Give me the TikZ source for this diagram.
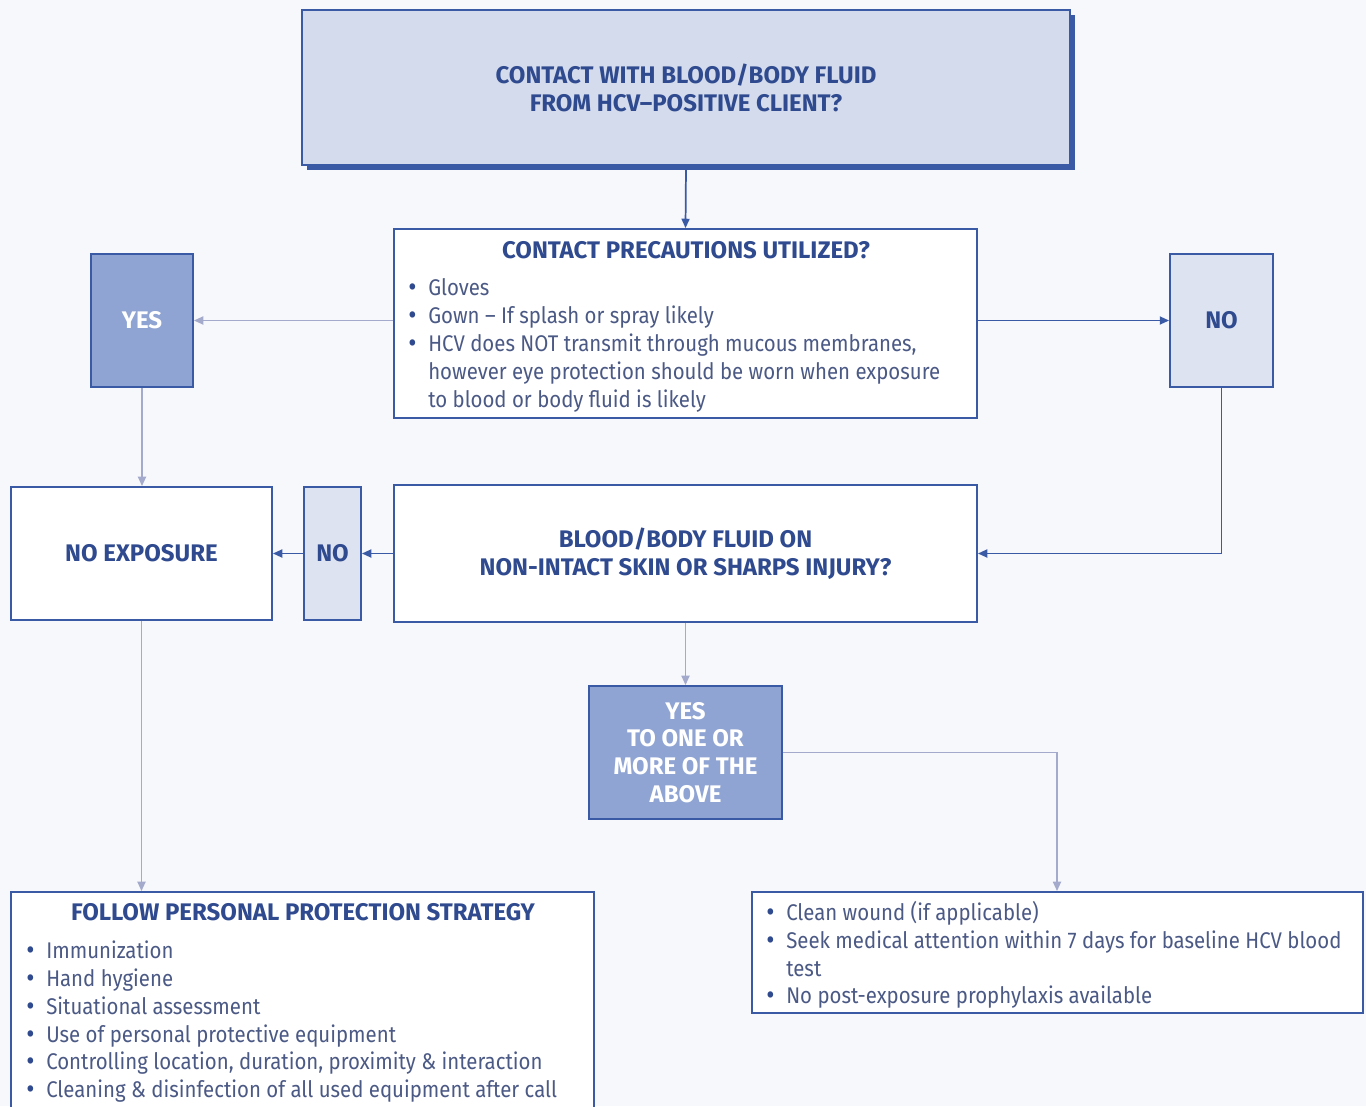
\documentclass[tikz,border=0pt]{standalone}
\usepackage{fontspec}
\setmainfont{Fira Sans}[FakeStretch=0.90]
\newfontfamily\headfam{Fira Sans}
\usetikzlibrary{arrows.meta,shadows}

\definecolor{bgcol}{HTML}{F7F8FC}
\definecolor{bdark}{HTML}{3B5AA6}
\definecolor{headtxt}{HTML}{2F4A8E}
\definecolor{bodytxt}{HTML}{4B5985}
\definecolor{topfill}{HTML}{D3DBEC}
\definecolor{yesfill}{HTML}{8FA4D3}
\definecolor{nofill}{HTML}{DEE3F1}
\definecolor{lgray}{HTML}{A4AACB}

\newcommand\bul{\makebox[13.5pt][l]{\hspace*{-1.5pt}\textcolor{headtxt}{\raisebox{-1.3pt}{\fontsize{21}{21}\selectfont •}}}}
\newcommand\ind{\hspace*{13.5pt}}

\begin{document}
\begin{tikzpicture}[x=0.75pt,y=-0.75pt,
  box/.style={draw=bdark, line width=1.4pt, fill=white, inner sep=0pt},
  headfont/.style={font=\headfam\bfseries\fontsize{18}{21}\selectfont},
  darkbox/.style={box, fill=yesfill, text=white, headfont, align=center},
  lightbox/.style={box, fill=nofill, text=headtxt, headfont, align=center},
  plainbox/.style={box, text=headtxt, headfont, align=center},
  head/.style={text=headtxt, headfont, inner sep=0pt},
  body/.style={text=bodytxt, font=\fontsize{17}{21}\selectfont, anchor=base west, inner sep=0pt},
  arr/.style={-{Triangle[length=7pt,width=6pt]}, line width=1.3pt, draw=bdark},
  larr/.style={arr, draw=lgray}]

\fill[bgcol] (0,0) rectangle (1366,1106);
\useasboundingbox (0,0) rectangle (1366,1106);

% boxes
\node[box, fill=topfill, text=headtxt, headfont, align=center,
      minimum width=768*0.75pt, minimum height=155*0.75pt,
      drop shadow={shadow xshift=3.5pt, shadow yshift=-3.5pt, fill=bdark, opacity=1}]
  (top) at (686,87.5) {CONTACT WITH BLOOD/BODY FLUID\\FROM HCV–POSITIVE CLIENT?};

\node[box, minimum width=583*0.75pt, minimum height=189*0.75pt] (prec) at (685.5,323.5) {};
\node[head] (prect) at (686,250) {CONTACT PRECAUTIONS UTILIZED?};
\node[body] (p1) at (410,295) {\bul Gloves};
\node[body] (p2) at (410,323) {\bul Gown – If splash or spray likely};
\node[body] (p3) at (410,351) {\bul HCV does NOT transmit through mucous membranes,};
\node[body] (p4) at (410,379) {\ind however eye protection should be worn when exposure};
\node[body] (p5) at (410,407) {\ind to blood or body fluid is likely};

\node[darkbox, minimum width=102*0.75pt, minimum height=133*0.75pt] (yes1) at (142,320.5) {YES};
\node[lightbox, minimum width=103*0.75pt, minimum height=133*0.75pt] (no1) at (1221.5,320.5) {NO};

\node[plainbox, minimum width=261*0.75pt, minimum height=133*0.75pt] (noexp) at (141.5,553.5) {NO EXPOSURE};
\node[lightbox, minimum width=57*0.75pt, minimum height=133*0.75pt] (no2) at (332.5,553.5) {NO};
\node[plainbox, minimum width=583*0.75pt, minimum height=137*0.75pt] (blood) at (685.5,553.5)
  {BLOOD/BODY FLUID ON\\NON-INTACT SKIN OR SHARPS INJURY?};

\node[darkbox, minimum width=193*0.75pt, minimum height=133*0.75pt,
      font=\headfam\bfseries\fontsize{18}{20.8}\selectfont] (yes2) at (685.5,752.5)
  {YES\\TO ONE OR\\MORE OF THE\\ABOVE};

\node[box, minimum width=583*0.75pt, minimum height=222*0.75pt] (follow) at (302.5,1003) {};
\node[head] (followt) at (303,912) {FOLLOW PERSONAL PROTECTION STRATEGY};
\node[body] (f1) at (28,958) {\bul Immunization};
\node[body] (f2) at (28,986) {\bul Hand hygiene};
\node[body] (f3) at (28,1014) {\bul Situational assessment};
\node[body] (f4) at (28,1042) {\bul Use of personal protective equipment};
\node[body] (f5) at (28,1069) {\bul Controlling location, duration, proximity \& interaction};
\node[body] (f6) at (28,1097) {\bul Cleaning \& disinfection of all used equipment after call};

\node[box, minimum width=611*0.75pt, minimum height=121*0.75pt] (care) at (1057.5,952.5) {};
\node[body] (c1) at (768,920) {\bul Clean wound (if applicable)};
\node[body] (c2) at (768,948) {\bul Seek medical attention within 7 days for baseline HCV blood};
\node[body] (c3) at (768,976) {\ind test};
\node[body] (c4) at (768,1003) {\bul No post-exposure prophylaxis available};

% connectors
\draw[arr] (top.south) -- (prec.north);
\draw[larr] (prec.west |- yes1.east) -- (yes1.east);
\draw[arr] (prec.east |- no1.west) -- (no1.west);
\draw[arr] (no1.south) |- (blood.east);
\draw[larr] (yes1.south) -- (noexp.north -| yes1.south);
\draw[arr] (blood.west) -- (no2.east);
\draw[arr] (no2.west) -- (noexp.east);
\draw[larr] (blood.south) -- (yes2.north);
\coordinate (bend) at (1057,752.5);
\draw[larr] (yes2.east) -- (bend) -- (care.north -| bend);
\draw[larr] (noexp.south) -- (follow.north -| noexp.south);

\end{tikzpicture}
\end{document}
